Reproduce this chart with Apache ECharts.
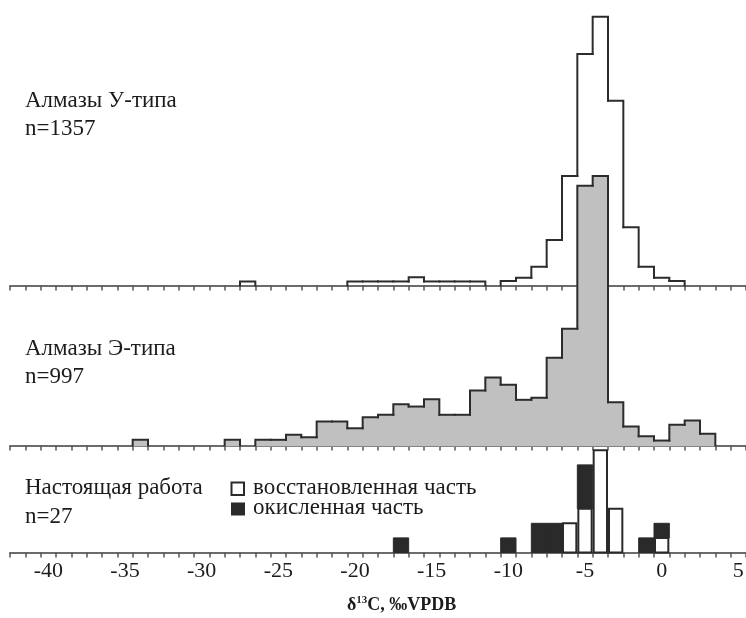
<!DOCTYPE html>
<html>
<head>
<meta charset="utf-8">
<script src="https://cdn.jsdelivr.net/npm/echarts@6/dist/echarts.min.js"></script>
<style>
  html, body { margin: 0; padding: 0; background: #ffffff; }
  #chart { width: 746px; height: 618px; }
</style>
</head>
<body>
<div id="chart"></div>
<script>
// δ13C distributions: bins are 1 ‰ wide and centred on integer values.

// Diamonds of U-type (frequency, %)
const uBins = [-27, -20, -19, -18, -17, -16, -15, -14, -13, -12,
               -10, -9, -8, -7, -6, -5, -4, -3, -2, -1, 0, 1];
const uFreq = [0.40, 0.40, 0.40, 0.40, 0.40, 0.81, 0.40, 0.40, 0.40, 0.40,
               0.45, 0.77, 1.86, 4.50, 10.84, 22.92, 26.61, 18.30, 5.76, 1.86, 0.77, 0.45];

// Diamonds of E-type (frequency, %)
const eBins = [-34, -28, -26, -25, -24, -23, -22, -21, -20, -19, -18, -17, -16, -15, -14, -13,
               -12, -11, -10, -9, -8, -7, -6, -5, -4, -3, -2, -1, 0, 1, 2, 3];
const eFreq = [0.38, 0.38, 0.38, 0.38, 0.71, 0.55, 1.60, 1.60, 1.15, 1.89, 2.05, 2.76, 2.60, 3.09, 2.05, 2.05,
               3.67, 4.54, 4.05, 3.05, 3.18, 5.85, 7.79, 17.34, 17.99, 2.89, 1.27, 0.62, 0.33, 1.38, 1.67, 0.78];

// This study (number of analyses)
const sampleBins     = [-17, -10, -8, -7, -6, -5, -4, -3, -1, 0];
const reducedCount   = [  0,   0,  0,  0,  2,  3,  7,  3,  0, 1];
const oxidizedCount  = [  1,   1,  2,  2,  0,  3,  0,  0,  1, 1];

// Axis
const tickLabels = [-40, -35, -30, -25, -20, -15, -10, -5, 0, 5];
const xMin = -42.5, xMax = 5.5;

const SERIF = "'Liberation Serif', 'Times New Roman', serif";
const INK = '#1c1c1c';
const OUTLINE = '#2c2c2c';
const GRAY = '#c0c0c0';
const DARK = '#2a2a2a';

const tickValues = [];
for (let v = xMin; v <= xMax + 1e-9; v += 1) tickValues.push(v);

function withNeighbours(bins, vals) {
  const m = new Map();
  bins.forEach((b, i) => m.set(b, vals[i]));
  return bins.map((b, i) => [b, vals[i], m.get(b - 1) || 0, m.get(b + 1) || 0]);
}

// Step outline of a histogram, optionally filled
function histRenderer(fill) {
  return function (params, api) {
    const c = api.value(0), h = api.value(1), hp = api.value(2), hn = api.value(3);
    const l = api.coord([c - 0.5, 0]);
    const r = api.coord([c + 0.5, 0]);
    const yTop = api.coord([c, h])[1];
    const yPrev = h > hp ? api.coord([c, hp])[1] : yTop;
    const yNext = h > hn ? api.coord([c, hn])[1] : yTop;
    const children = [];
    if (fill) {
      // slight overlap so neighbouring columns join without seams
      children.push({
        type: 'rect', z2: 0,
        shape: { x: l[0] - 0.6, y: yTop, width: r[0] - l[0] + 1.2, height: l[1] - yTop + 0.8 },
        style: { fill: fill }
      });
    }
    children.push({
      type: 'polyline', z2: 1,
      shape: { points: [[l[0], yPrev], [l[0], yTop], [r[0], yTop], [r[0], yNext]] },
      style: { stroke: OUTLINE, lineWidth: 2, fill: null, lineJoin: 'miter', lineCap: 'square' }
    });
    return { type: 'group', children: children };
  };
}

// Stacked columns: reduced part below, oxidised part above
function sampleRenderer(params, api) {
  const c = api.value(0), w = api.value(1), k = api.value(2);
  const l = api.coord([c - 0.5, 0]);
  const r = api.coord([c + 0.5, 0]);
  const yW = api.coord([c, w])[1];
  const yK = api.coord([c, w + k])[1];
  const children = [];
  if (w > 0) {
    children.push({
      type: 'rect', z2: 1,
      shape: { x: l[0] + 1, y: yW, width: r[0] - l[0] - 2, height: l[1] - yW },
      style: { fill: '#ffffff', stroke: DARK, lineWidth: 2 }
    });
  }
  if (k > 0) {
    children.push({
      type: 'rect', z2: 0,
      shape: { x: l[0], y: yK, width: r[0] - l[0], height: yW - yK },
      style: { fill: DARK, stroke: DARK, lineWidth: 1 }
    });
  }
  return { type: 'group', children: children };
}

// Panel layout: baseline position (px) and vertical scale (px per unit)
const panels = [
  { base: 285.5, perUnit: 10.1, yMax: 28 },
  { base: 445.5, perUnit: 14.98, yMax: 20 },
  { base: 552.5, perUnit: 14.6, yMax: 8 }
];

const grids = panels.map(p => ({
  left: 10, right: 0,
  top: p.base - p.yMax * p.perUnit,
  height: p.yMax * p.perUnit,
  containLabel: false,
  outerBoundsMode: 'none'
}));

const xAxes = panels.map((p, i) => ({
  gridIndex: i,
  type: 'value',
  z: 0,
  min: xMin, max: xMax,
  splitLine: { show: false },
  axisLine: { show: true, onZero: false, lineStyle: { color: '#3c3c3c', width: 1.5 } },
  axisTick: {
    show: true, inside: false, length: 5,
    customValues: tickValues,
    lineStyle: { color: '#555555', width: 1.5 }
  },
  axisLabel: {
    show: i === 2,
    customValues: tickLabels,
    margin: 8,
    color: INK,
    fontFamily: SERIF,
    fontSize: 22,
    formatter: v => String(v)
  }
}));

const yAxes = panels.map((p, i) => ({
  gridIndex: i, type: 'value', min: 0, max: p.yMax, show: false
}));

function label(x, y, text, size, weight) {
  return {
    type: 'text', x: x, y: y, z: 10,
    style: {
      text: text, fill: INK,
      font: (weight || 'normal') + ' ' + size + 'px ' + SERIF,
      align: 'left', verticalAlign: 'middle'
    }
  };
}

const chart = echarts.init(document.getElementById('chart'), null, { renderer: 'canvas' });
chart.setOption({
  animation: false,
  backgroundColor: '#ffffff',
  grid: grids,
  xAxis: xAxes,
  yAxis: yAxes,
  series: [
    {
      name: 'Алмазы У-типа', type: 'custom', xAxisIndex: 0, yAxisIndex: 0,
      clip: false, z: 10,
      renderItem: histRenderer(null),
      data: withNeighbours(uBins, uFreq)
    },
    {
      name: 'Алмазы Э-типа', type: 'custom', xAxisIndex: 1, yAxisIndex: 1,
      clip: false, zlevel: 1, z: 12,
      renderItem: histRenderer(GRAY),
      data: withNeighbours(eBins, eFreq)
    },
    {
      name: 'Настоящая работа', type: 'custom', xAxisIndex: 2, yAxisIndex: 2,
      clip: false, z: 10,
      renderItem: sampleRenderer,
      data: sampleBins.map((b, i) => [b, reducedCount[i], oxidizedCount[i]])
    }
  ],
  graphic: [
    label(25, 101, 'Алмазы У-типа', 23),
    label(25, 129, 'n=1357', 23),
    label(25, 349, 'Алмазы Э-типа', 23),
    label(25, 377, 'n=997', 23),
    label(25, 488, 'Настоящая работа', 23),
    label(25, 517, 'n=27', 23),
    {
      type: 'rect', z: 10,
      shape: { x: 231.5, y: 482.5, width: 12.5, height: 12.5 },
      style: { fill: '#ffffff', stroke: DARK, lineWidth: 2 }
    },
    {
      type: 'rect', z: 10,
      shape: { x: 231, y: 502.5, width: 14, height: 13 },
      style: { fill: DARK }
    },
    label(253, 488, 'восстановленная часть', 23),
    label(253, 507.5, 'окисленная часть', 23),
    {
      type: 'text', x: 347, y: 605, z: 10,
      style: {
        text: '{a|δ}{s|13}{a|C, ‰VPDB}',
        fill: INK, align: 'left', verticalAlign: 'middle',
        rich: {
          a: { fontFamily: SERIF, fontWeight: 'bold', fontSize: 18, fill: INK },
          s: { fontFamily: SERIF, fontWeight: 'bold', fontSize: 11, fill: INK, padding: [0, 0, 10, 0] }
        }
      }
    }
  ]
});
</script>
</body>
</html>
